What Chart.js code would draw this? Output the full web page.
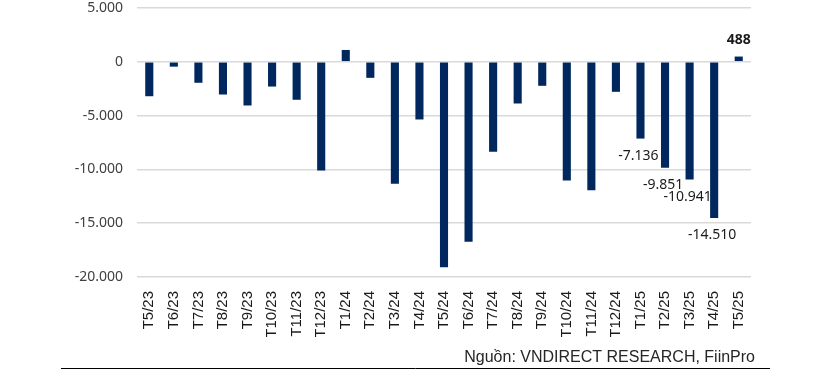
<!DOCTYPE html>
<html>
<head>
<meta charset="utf-8">
<script src="https://cdn.jsdelivr.net/npm/chart.js@4/dist/chart.umd.min.js"></script>
<style>
  html, body { margin: 0; padding: 0; background: #fff; }
  #wrap { width: 818px; height: 375px; }
</style>
</head>
<body>
<div id="wrap"><canvas id="chart" width="818" height="375"></canvas></div>
<script>
// Tháng (trục X)
const thang = [
  "T5/23", "T6/23", "T7/23", "T8/23", "T9/23", "T10/23", "T11/23", "T12/23",
  "T1/24", "T2/24", "T3/24", "T4/24", "T5/24", "T6/24", "T7/24", "T8/24",
  "T9/24", "T10/24", "T11/24", "T12/24",
  "T1/25", "T2/25", "T3/25", "T4/25", "T5/25",
];

// Giá trị mua/bán ròng (tỷ đồng)
const giaTri = [
  -3200, -450, -1950, -3040, -4060, -2300, -3530, -10100,
  1100, -1490, -11340, -5360, -19090, -16730, -8360, -3875,
  -2230, -11030, -11930, -2790,
  -7136, -9851, -10941, -14510, 488,
];

// Các tháng có hiển thị nhãn số liệu
const thangCoNhan = ["T1/25", "T2/25", "T3/25", "T4/25", "T5/25"];

// Vạch trục Y
const vachY = [-20000, -15000, -10000, -5000, 0, 5000];

const nguon = "Nguồn: VNDIRECT RESEARCH, FiinPro";

const MAU_COT = "#00285e";

function dinhDang(v) {
  const s = Math.abs(Math.round(v)).toString().replace(/\B(?=(\d{3})+(?!\d))/g, ".");
  return (v < 0 ? "-" : "") + s;
}

// -------- NHÃN TRÊN CỘT --------
const nhanCot = {
  id: "nhanCot",
  afterDatasetsDraw(chart) {
    const ctx = chart.ctx;
    const meta = chart.getDatasetMeta(0);
    ctx.save();
    ctx.fillStyle = "#1a1a1a";
    ctx.textAlign = "center";
    ctx.textBaseline = "middle";
    meta.data.forEach((bar, i) => {
      if (!thangCoNhan.includes(thang[i])) return;
      const v = giaTri[i];
      if (v >= 0) {
        ctx.font = "bold 14px 'Noto Sans'";
        ctx.fillText(dinhDang(v), bar.x, bar.y - 17);
      } else {
        ctx.font = "14px 'Noto Sans'";
        ctx.fillText(dinhDang(v), bar.x - 2, bar.y + 17);
      }
    });
    ctx.restore();
  },
};

// -------- NGUỒN + ĐƯỜNG KẺ --------
const chanTrang = {
  id: "chanTrang",
  afterDraw(chart) {
    const ctx = chart.ctx;
    ctx.save();
    ctx.fillStyle = "#262626";
    ctx.font = "16px 'Liberation Sans'";
    ctx.textAlign = "right";
    ctx.textBaseline = "alphabetic";
    ctx.fillText(nguon, 755, 362);
    ctx.strokeStyle = "#000";
    ctx.lineWidth = 1;
    ctx.beginPath();
    ctx.moveTo(61, 368.5);
    ctx.lineTo(770, 368.5);
    ctx.stroke();
    ctx.restore();
  },
};

new Chart(document.getElementById("chart").getContext("2d"), {
  type: "bar",
  data: {
    labels: thang,
    datasets: [{
      data: giaTri,
      backgroundColor: MAU_COT,
      borderWidth: 0,
      barPercentage: 0.33,
      categoryPercentage: 1,
    }],
  },
  options: {
    responsive: false,
    animation: false,
    layout: { padding: { left: 0, right: 67, top: 8, bottom: 38 } },
    plugins: {
      legend: { display: false },
      tooltip: { enabled: false },
    },
    scales: {
      x: {
        grid: { display: false },
        border: { display: false },
        ticks: {
          color: "#1a1a1a",
          font: { family: "'Liberation Sans'", size: 15 },
          minRotation: 90,
          maxRotation: 90,
          padding: 6,
          autoSkip: false,
        },
        afterFit(scale) {
          scale.height = 60;
          scale.paddingLeft = 0;
          scale.paddingRight = 0;
        },
      },
      y: {
        min: -20000,
        max: 5000,
        afterBuildTicks(scale) {
          scale.ticks = vachY.map((v) => ({ value: v }));
        },
        grid: { color: "#d9d9d9", lineWidth: 1.5, drawTicks: false },
        border: { display: false },
        ticks: {
          color: "#404040",
          font: { family: "'Noto Sans'", size: 14 },
          padding: 14,
          callback: (v) => dinhDang(v),
        },
        afterFit(scale) {
          scale.width = 137;
          scale.paddingTop = 0;
          scale.paddingBottom = 0;
        },
      },
    },
  },
  plugins: [nhanCot, chanTrang],
});
</script>
</body>
</html>
